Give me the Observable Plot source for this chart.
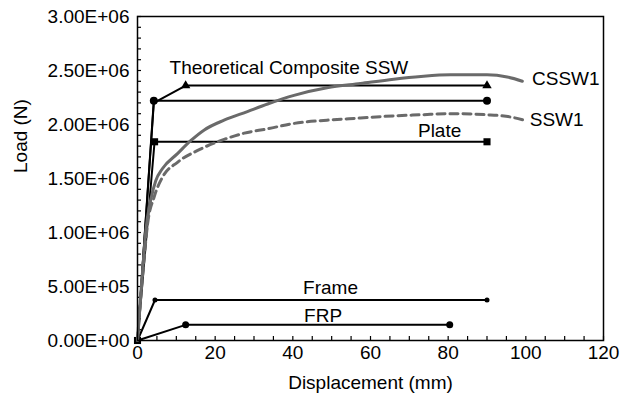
<!DOCTYPE html>
<html>
<head>
<meta charset="utf-8">
<script src="https://cdn.jsdelivr.net/npm/d3@7"></script>
<script src="https://cdn.jsdelivr.net/npm/@observablehq/plot@0.6"></script>
<style>
  html, body { margin: 0; padding: 0; background: #fff; }
  #chart { width: 630px; height: 402px; }
</style>
</head>
<body>
<div id="chart"></div>
<script>
// ---- data (displacement in mm, load in N) ----
const csswX = [0, 1, 1.6, 2.15, 3.4, 4.7, 6.4, 10.3, 13.7, 17.2, 22.3, 28.3, 33.5, 40.3, 48.8, 57.4, 66, 73, 80.6, 90, 95.2, 99.1];
const csswY = [0, 0.5e6, 0.78e6, 1.02e6, 1.30e6, 1.48e6, 1.59e6, 1.73e6, 1.85e6, 1.95e6, 2.04e6, 2.12e6, 2.19e6, 2.27e6, 2.34e6, 2.38e6, 2.42e6, 2.445e6, 2.46e6, 2.46e6, 2.44e6, 2.40e6];

const sswX = [0, 1, 1.8, 2.6, 4.3, 6.4, 10.3, 15.5, 21.4, 27.5, 33.5, 40.3, 48.8, 57.4, 66, 73, 80.6, 90, 96, 99.5];
const sswY = [0, 0.48e6, 0.8e6, 1.08e6, 1.33e6, 1.51e6, 1.65e6, 1.76e6, 1.85e6, 1.92e6, 1.96e6, 2.01e6, 2.04e6, 2.06e6, 2.08e6, 2.09e6, 2.10e6, 2.09e6, 2.07e6, 2.04e6];

const theoX = [0, 4.2, 12.4, 90];
const theoY = [0, 2.2e6, 2.36e6, 2.36e6];

const sumX = [0, 4.2, 90];
const sumY = [0, 2.22e6, 2.22e6];

const plateX = [0, 4.4, 90];
const plateY = [0, 1.84e6, 1.84e6];

const frameX = [0, 4.5, 90];
const frameY = [0, 0.375e6, 0.375e6];

const frpX = [0, 12.4, 80.4];
const frpY = [0, 0.145e6, 0.145e6];

const xTicks = [0, 20, 40, 60, 80, 100, 120];
const xMinorTicks = d3.range(0, 121, 5);
const yTicks = [0, 0.5e6, 1e6, 1.5e6, 2e6, 2.5e6, 3e6];
const yTickLabels = ["0.00E+00", "5.00E+05", "1.00E+06", "1.50E+06", "2.00E+06", "2.50E+06", "3.00E+06"];
const yMinorTicks = d3.range(0, 3e6 + 1, 1e5);

const xTitle = "Displacement (mm)";
const yTitle = "Load (N)";

const labelText = ["Theoretical Composite SSW", "CSSW1", "SSW1", "Plate", "Frame", "FRP"];
const labelX = [39.0, 101.6, 101.0, 77.8, 49.7, 47.8];
const labelY = [2.52e6, 2.42e6, 2.04e6, 1.94e6, 0.486e6, 0.232e6];
const labelAlign = ["middle", "start", "start", "middle", "middle", "middle"];

// ---- build tables ----
const zip = (xs, ys) => xs.map((x, i) => ({x, y: ys[i]}));
const cssw = zip(csswX, csswY);
const ssw = zip(sswX, sswY);
const theo = zip(theoX, theoY);
const sum = zip(sumX, sumY);
const plate = zip(plateX, plateY);
const frame = zip(frameX, frameY);
const frp = zip(frpX, frpY);
const labels = labelText.map((t, i) => ({text: t, x: labelX[i], y: labelY[i], anchor: labelAlign[i]}));

const font = "'Liberation Sans', Arial, Helvetica, sans-serif";
const lineStyle = {x: "x", y: "y", stroke: "black", strokeWidth: 2};
const grey = "#6a6a6a";

const chart = Plot.plot({
  width: 630,
  height: 402,
  marginLeft: 137,
  marginRight: 27,
  marginTop: 16,
  marginBottom: 62,
  style: {fontFamily: font, fontSize: "19px", color: "black", background: "white"},
  x: {domain: [0, 120]},
  y: {domain: [0, 3e6]},
  marks: [
    // inward ticks
    Plot.ruleX(xMinorTicks, {x: d => d, insetTop: 320, stroke: "black", strokeWidth: 1.2}),
    Plot.ruleY(yMinorTicks, {y: d => d, insetRight: 462, stroke: "black", strokeWidth: 1.2}),
    Plot.axisX({ticks: xTicks, tickSize: 0, tickPadding: 5, tickFormat: d => String(d),
      label: xTitle, labelAnchor: "center", labelArrow: "none", labelOffset: 48, fontSize: 19}),
    Plot.axisY({ticks: yTicks, tickSize: 0, tickPadding: 8, tickFormat: (d, i) => yTickLabels[i],
      label: null, fontSize: 19}),
    Plot.text([yTitle], {text: d => d, frameAnchor: "left", rotate: -90, dx: -117, dy: -5.5, fill: "black", fontSize: 19}),
    // bilinear models
    Plot.line(frp, lineStyle),
    Plot.line(frame, lineStyle),
    Plot.line(plate, lineStyle),
    Plot.line(sum, lineStyle),
    Plot.line(theo, lineStyle),
    // markers
    Plot.dot(frp.slice(1), {x: "x", y: "y", r: 3.5, fill: "black"}),
    Plot.dot(frame.slice(1), {x: "x", y: "y", r: 2.5, fill: "black"}),
    Plot.dot(plate.slice(1), {x: "x", y: "y", symbol: "square", r: 4, fill: "black"}),
    Plot.dot(sum.slice(1), {x: "x", y: "y", r: 4, fill: "black"}),
    Plot.dot(theo.slice(2), {x: "x", y: "y", symbol: "triangle", r: 3.5, fill: "black"}),
    Plot.dot(plate.slice(0, 1), {x: "x", y: "y", symbol: "square", r: 4, fill: "black"}),
    // experimental curves
    Plot.line(cssw, {x: "x", y: "y", stroke: grey, strokeWidth: 3, curve: "monotone-x"}),
    Plot.line(ssw, {x: "x", y: "y", stroke: grey, strokeWidth: 3, strokeDasharray: "8,5", curve: "monotone-x"}),
    // labels
    Plot.text(labels.filter(d => d.anchor === "middle"), {x: "x", y: "y", text: "text", textAnchor: "middle", fill: "black", fontSize: 19}),
    Plot.text(labels.filter(d => d.anchor === "start"), {x: "x", y: "y", text: "text", textAnchor: "start", fill: "black", fontSize: 19}),
    Plot.frame({stroke: "black", strokeWidth: 1.5})
  ]
});
document.getElementById("chart").appendChild(chart);
</script>
</body>
</html>
